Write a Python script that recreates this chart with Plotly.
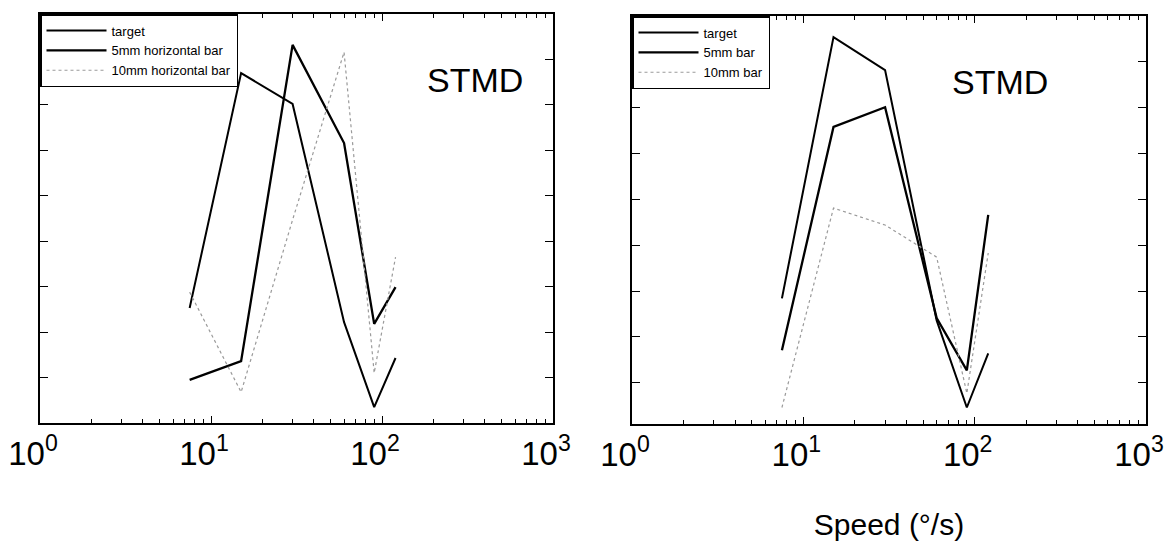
import plotly.graph_objects as go

speed = [7.5, 15, 30, 60, 90, 120]

# left panel (horizontal bars)
left_target = [2.53, 7.70, 7.02, 2.22, 0.35, 1.43]
left_5mm = [0.95, 1.36, 8.32, 6.16, 2.18, 2.99]
left_10mm = [2.88, 0.68, 4.47, 8.16, 1.10, 3.65]

# right panel (bars)
right_target = [2.84, 8.54, 7.82, 2.36, 0.46, 1.64]
right_5mm = [1.71, 6.58, 7.01, 2.41, 1.27, 4.66]
right_10mm = [0.46, 4.81, 4.44, 3.74, 0.77, 3.83]

left_names = ["target", "5mm horizontal bar", "10mm horizontal bar"]
right_names = ["target", "5mm bar", "10mm bar"]
tick_vals = [1, 10, 100, 1000]
tick_text = ["10<sup>0</sup>", "10<sup>1</sup>", "10<sup>2</sup>", "10<sup>3</sup>"]

FONT = "Liberation Sans, Arial, Helvetica, sans-serif"
W, H = 1164, 546

styles = [
    dict(color="black", width=2),
    dict(color="black", width=2.3),
    dict(color="#9a9a9a", width=1.2, dash="dot"),
]

fig = go.Figure()
for ys, nm, st in zip([left_target, left_5mm, left_10mm], left_names, styles):
    fig.add_trace(go.Scatter(x=speed, y=ys, name=nm, mode="lines", line=st,
                             xaxis="x", yaxis="y", legend="legend"))
for ys, nm, st in zip([right_target, right_5mm, right_10mm], right_names, styles):
    fig.add_trace(go.Scatter(x=speed, y=ys, name=nm, mode="lines", line=st,
                             xaxis="x2", yaxis="y2", legend="legend2"))

def px_x(p):
    return p / W

def px_y(p):
    return 1 - p / H

xcommon = dict(type="log", range=[0, 3], tickvals=tick_vals, ticktext=tick_text,
               ticks="inside", ticklen=7, tickwidth=1, tickcolor="black",
               showline=True, linecolor="black", linewidth=1.8, mirror="ticks",
               showgrid=False, zeroline=False, ticklabeloverflow="allow",
               ticklabelshift=-7,
               tickfont=dict(family=FONT, size=33, color="black"),
               minor=dict(ticks="inside", ticklen=4, tickcolor="black",
                          dtick="D1", showgrid=False),
               automargin=False)
ycommon = dict(dtick=1, showticklabels=False,
               ticks="inside", ticklen=8, tickwidth=1, tickcolor="black",
               showline=True, linecolor="black", linewidth=1.8, mirror="ticks",
               showgrid=False, zeroline=False, automargin=False)

legcommon = dict(xanchor="left", yanchor="top",
                 bgcolor="white", bordercolor="black", borderwidth=1.5,
                 font=dict(family=FONT, size=13), tracegroupgap=0,
                 itemwidth=60)

fig.update_layout(
    width=W, height=H,
    margin=dict(l=0, r=0, t=0, b=0),
    paper_bgcolor="white", plot_bgcolor="white",
    font=dict(family=FONT, color="black"),
    xaxis=dict(domain=[px_x(40), px_x(553)], anchor="y", **xcommon),
    yaxis=dict(domain=[px_y(423), px_y(14)], anchor="x", range=[0, 9], **ycommon),
    xaxis2=dict(domain=[px_x(632), px_x(1146)], anchor="y2",
                title=dict(text="Speed (°/s)", font=dict(family=FONT, size=30), standoff=42),
                **xcommon),
    yaxis2=dict(domain=[px_y(424), px_y(16)], anchor="x2", range=[0.1, 9], **ycommon),
    legend=dict(x=px_x(40), y=px_y(14), **legcommon),
    legend2=dict(x=px_x(632), y=px_y(16), **legcommon),
    showlegend=True,
    annotations=[
        dict(text="STMD", x=475 / W, y=px_y(80), xref="paper", yref="paper",
             xanchor="center", yanchor="middle",
             showarrow=False, font=dict(family=FONT, size=34, color="black")),
        dict(text="STMD", x=1000 / W, y=px_y(82), xref="paper", yref="paper",
             xanchor="center", yanchor="middle",
             showarrow=False, font=dict(family=FONT, size=34, color="black")),
    ],
)

fig.write_html("out.html")
